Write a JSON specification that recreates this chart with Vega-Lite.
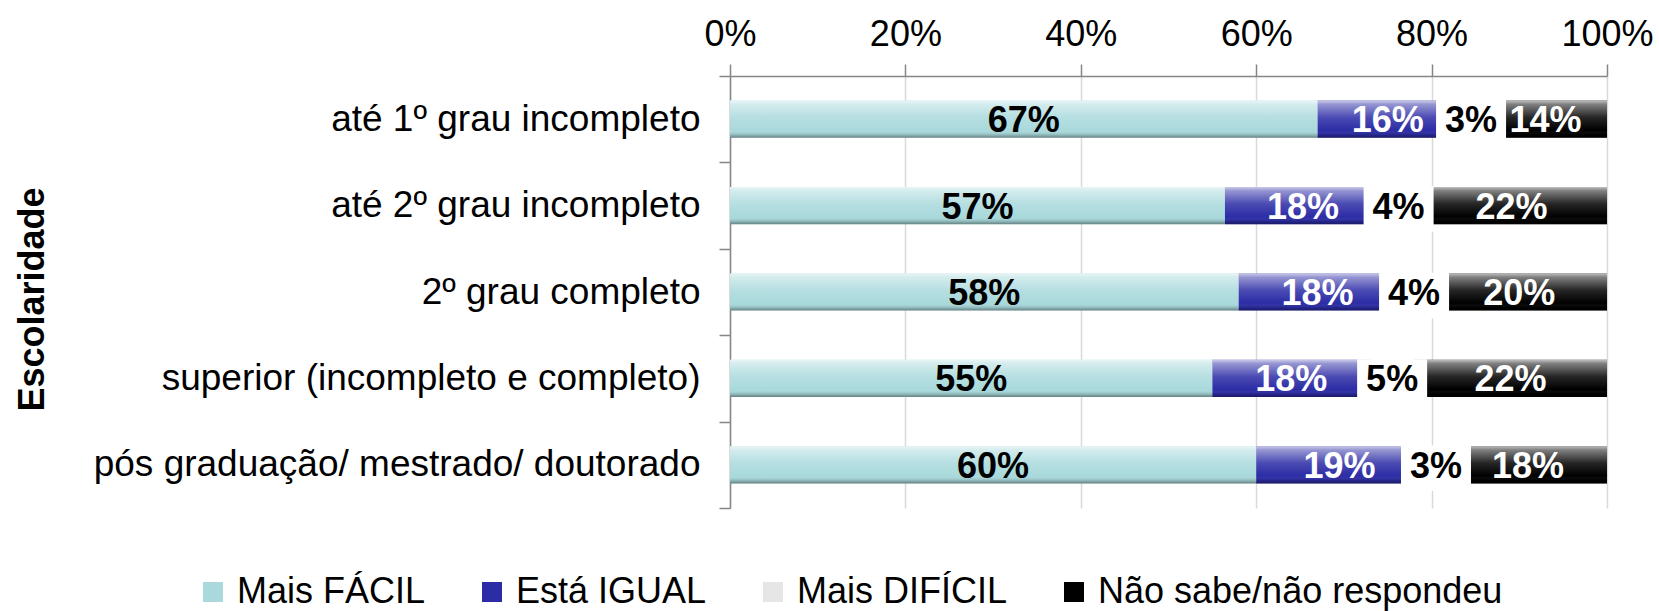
{
  "$schema": "https://vega.github.io/schema/vega-lite/v6.json",
  "autosize": {"type": "none"},
  "padding": {"left": 730, "top": 76, "right": 52, "bottom": 103},
  "width": 877,
  "height": 432,
  "background": "white",
  "config": {
    "font": "Liberation Sans",
    "view": {"stroke": null}
  },
  "data": {
    "values": [
      {"grp": "até 1º grau incompleto", "cat": "Mais FÁCIL", "k": 1, "v": 0.67},
      {"grp": "até 1º grau incompleto", "cat": "Está IGUAL", "k": 2, "v": 0.16},
      {"grp": "até 1º grau incompleto", "cat": "Mais DIFÍCIL", "k": 3, "v": 0.03},
      {"grp": "até 1º grau incompleto", "cat": "Não sabe/não respondeu", "k": 4, "v": 0.14},
      {"grp": "até 2º grau incompleto", "cat": "Mais FÁCIL", "k": 1, "v": 0.57},
      {"grp": "até 2º grau incompleto", "cat": "Está IGUAL", "k": 2, "v": 0.18},
      {"grp": "até 2º grau incompleto", "cat": "Mais DIFÍCIL", "k": 3, "v": 0.04},
      {"grp": "até 2º grau incompleto", "cat": "Não sabe/não respondeu", "k": 4, "v": 0.22},
      {"grp": "2º grau completo", "cat": "Mais FÁCIL", "k": 1, "v": 0.58},
      {"grp": "2º grau completo", "cat": "Está IGUAL", "k": 2, "v": 0.18},
      {"grp": "2º grau completo", "cat": "Mais DIFÍCIL", "k": 3, "v": 0.04},
      {"grp": "2º grau completo", "cat": "Não sabe/não respondeu", "k": 4, "v": 0.20},
      {"grp": "superior (incompleto e completo)", "cat": "Mais FÁCIL", "k": 1, "v": 0.55},
      {"grp": "superior (incompleto e completo)", "cat": "Está IGUAL", "k": 2, "v": 0.18},
      {"grp": "superior (incompleto e completo)", "cat": "Mais DIFÍCIL", "k": 3, "v": 0.05},
      {"grp": "superior (incompleto e completo)", "cat": "Não sabe/não respondeu", "k": 4, "v": 0.22},
      {"grp": "pós graduação/ mestrado/ doutorado", "cat": "Mais FÁCIL", "k": 1, "v": 0.60},
      {"grp": "pós graduação/ mestrado/ doutorado", "cat": "Está IGUAL", "k": 2, "v": 0.19},
      {"grp": "pós graduação/ mestrado/ doutorado", "cat": "Mais DIFÍCIL", "k": 3, "v": 0.03},
      {"grp": "pós graduação/ mestrado/ doutorado", "cat": "Não sabe/não respondeu", "k": 4, "v": 0.18}
    ]
  },
  "transform": [
    {"stack": "v", "groupby": ["grp"], "sort": [{"field": "k", "order": "ascending"}], "offset": "normalize", "as": ["x0", "x1"]},
    {"calculate": "(datum.x0 + datum.x1) / 2", "as": "mid"}
  ],
  "encoding": {
    "y": {
      "field": "grp",
      "type": "nominal",
      "sort": null,
      "scale": {"paddingInner": 0, "paddingOuter": 0},
      "axis": {
        "title": "Escolaridade",
        "titleFontSize": 36,
        "titleFontWeight": "bold",
        "titleColor": "black",
        "titleX": -698,
        "titleY": 223,
        "titleAngle": 270,
        "titleAlign": "center",
        "titleBaseline": "middle",
        "labelFontSize": 37,
        "labelColor": "black",
        "labelPadding": 19,
        "labelLimit": 700,
        "tickBand": "extent",
        "tickSize": 11,
        "tickColor": "#868686",
        "tickWidth": 1.5,
        "domainColor": "#868686",
        "domainWidth": 1.5,
        "grid": false
      }
    }
  },
  "layer": [
    {
      "mark": {"type": "bar", "height": {"band": 0.43}},
      "encoding": {
        "x": {
          "field": "x0",
          "type": "quantitative",
          "scale": {"domain": [0, 1], "nice": false},
          "axis": {
            "orient": "top",
            "title": null,
            "values": [0, 0.2, 0.4, 0.6, 0.8, 1],
            "format": ".0%",
            "labelFlush": false,
            "labelFontSize": 36,
            "labelColor": "black",
            "labelPadding": 11,
            "tickSize": 12,
            "tickColor": "#868686",
            "tickWidth": 1.5,
            "domainColor": "#868686",
            "domainWidth": 1.5,
            "grid": true,
            "gridColor": "#d9d9d9",
            "gridWidth": 1.5
          }
        },
        "x2": {"field": "x1"},
        "order": {"field": "k"},
        "color": {
          "field": "cat",
          "type": "nominal",
          "scale": {
            "domain": ["Mais FÁCIL", "Está IGUAL", "Mais DIFÍCIL", "Não sabe/não respondeu"],
            "range": ["#a9d9dc", "#2c2ca6", "#e6e6e6", "#000000"]
          },
          "legend": {
            "title": null,
            "orient": "none",
            "legendX": -535,
            "legendY": 498,
            "direction": "horizontal",
            "columns": 4,
            "columnPadding": 48,
            "padding": 0,
            "labelFontSize": 36,
            "labelColor": "black",
            "labelLimit": 600,
            "labelOffset": 6,
            "symbolType": "square",
            "symbolSize": 400,
            "symbolStrokeWidth": 0
          }
        }
      }
    },
    {
      "transform": [{"filter": "datum.k !== 3"}],
      "mark": {
        "type": "bar",
        "height": {"band": 0.43},
        "fill": {"gradient": "linear", "x1": 0, "y1": 0, "x2": 0, "y2": 1, "stops": [
          {"offset": 0, "color": "rgba(255,255,255,0.75)"},
          {"offset": 0.1, "color": "rgba(255,255,255,0.5)"},
          {"offset": 0.45, "color": "rgba(255,255,255,0.15)"},
          {"offset": 0.8, "color": "rgba(255,255,255,0)"},
          {"offset": 0.92, "color": "rgba(0,0,0,0.15)"},
          {"offset": 1, "color": "rgba(0,0,0,0.4)"}
        ]}
      },
      "encoding": {
        "x": {"field": "x0", "type": "quantitative"},
        "x2": {"field": "x1"}
      }
    },
    {
      "transform": [{"filter": "datum.k === 3"}],
      "mark": {
        "type": "point",
        "shape": "M-1,-0.55L1,-0.55L1,0.75L-1,0.75Z",
        "filled": true,
        "fill": "white",
        "opacity": 1,
        "size": 4900,
        "strokeWidth": 0
      },
      "encoding": {
        "x": {"field": "mid", "type": "quantitative"}
      }
    },
    {
      "mark": {"type": "text", "fontSize": 36, "fontWeight": "bold", "baseline": "middle", "align": "center", "dy": 2},
      "encoding": {
        "x": {"field": "mid", "type": "quantitative"},
        "text": {"field": "v", "type": "quantitative", "format": ".0%"},
        "color": {
          "condition": {"test": "datum.k === 2 || datum.k === 4", "value": "white"},
          "value": "black"
        }
      }
    }
  ]
}
